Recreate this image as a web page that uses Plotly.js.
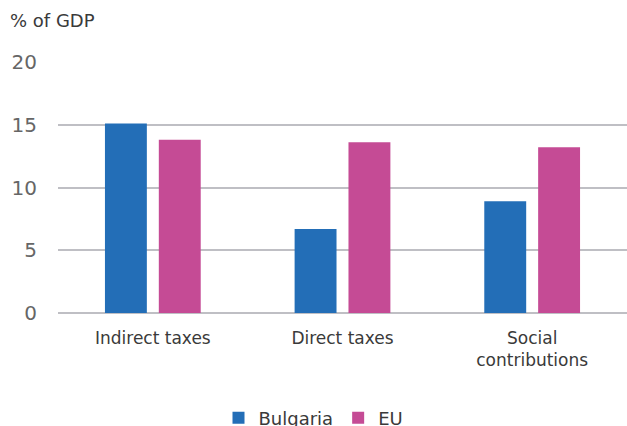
<!DOCTYPE html>
<html>
<head>
<meta charset="utf-8">
<script src="https://cdn.plot.ly/plotly-3.0.1.min.js"></script>
<style>html,body{margin:0;padding:0;background:#fff;}#chart{width:627px;height:426px;}</style>
</head>
<body>
<div id="chart"></div>
<script>
const categories = ["Indirect taxes", "Direct taxes", "Social<br>contributions"];
const bulgaria = [15.1, 6.7, 8.9];
const eu = [13.8, 13.6, 13.2];
const seriesNames = ["Bulgaria", "EU"];
const yTicks = [0, 5, 10, 15, 20];

const FONT = "DejaVu Sans, sans-serif";
const data = [
  {type: "bar", name: seriesNames[0], x: categories, y: bulgaria,
   marker: {color: "#236EB7", line: {width: 0}}, hoverinfo: "y"},
  {type: "bar", name: seriesNames[1], x: categories, y: eu,
   marker: {color: "#C54B95", line: {width: 0}}, hoverinfo: "y"}
];
const layout = {
  width: 627, height: 426,
  margin: {l: 58, r: 0, t: 62, b: 113},
  paper_bgcolor: "#fff", plot_bgcolor: "#fff",
  font: {family: FONT, color: "#3a3a3a"},
  barmode: "group", bargap: 0.432, bargroupgap: 0.222,
  title: {text: "% of GDP", x: 10/627, xanchor: "left", xref: "container",
          y: 1 - 21/426, yanchor: "middle", yref: "container",
          font: {family: FONT, size: 18, color: "#3a3a3a"}},
  xaxis: {tickfont: {family: FONT, size: 17, color: "#3a3a3a"}, showgrid: false,
          showline: false, zeroline: false, ticks: "", fixedrange: true, automargin: false,
          ticklabelstandoff: 13},
  yaxis: {range: [0, 20], tickvals: yTicks, ticktext: yTicks.map(String),
          tickfont: {family: FONT, size: 20, color: "#666666"},
          showgrid: true, gridcolor: "#BFBFC4", gridwidth: 2,
          zeroline: true, zerolinecolor: "#BFBFC4", zerolinewidth: 2,
          showline: false, ticks: "", ticklabelstandoff: 20, fixedrange: true, automargin: false},
  showlegend: true,
  legend: {orientation: "h", x: 0.5, xanchor: "center", xref: "container",
           y: (426 - 418) / 426, yanchor: "middle", yref: "container",
           font: {family: FONT, size: 18, color: "#3a3a3a"}, traceorder: "normal"}
};
Plotly.newPlot("chart", data, layout, {displayModeBar: false, staticPlot: true});
</script>
</body>
</html>
